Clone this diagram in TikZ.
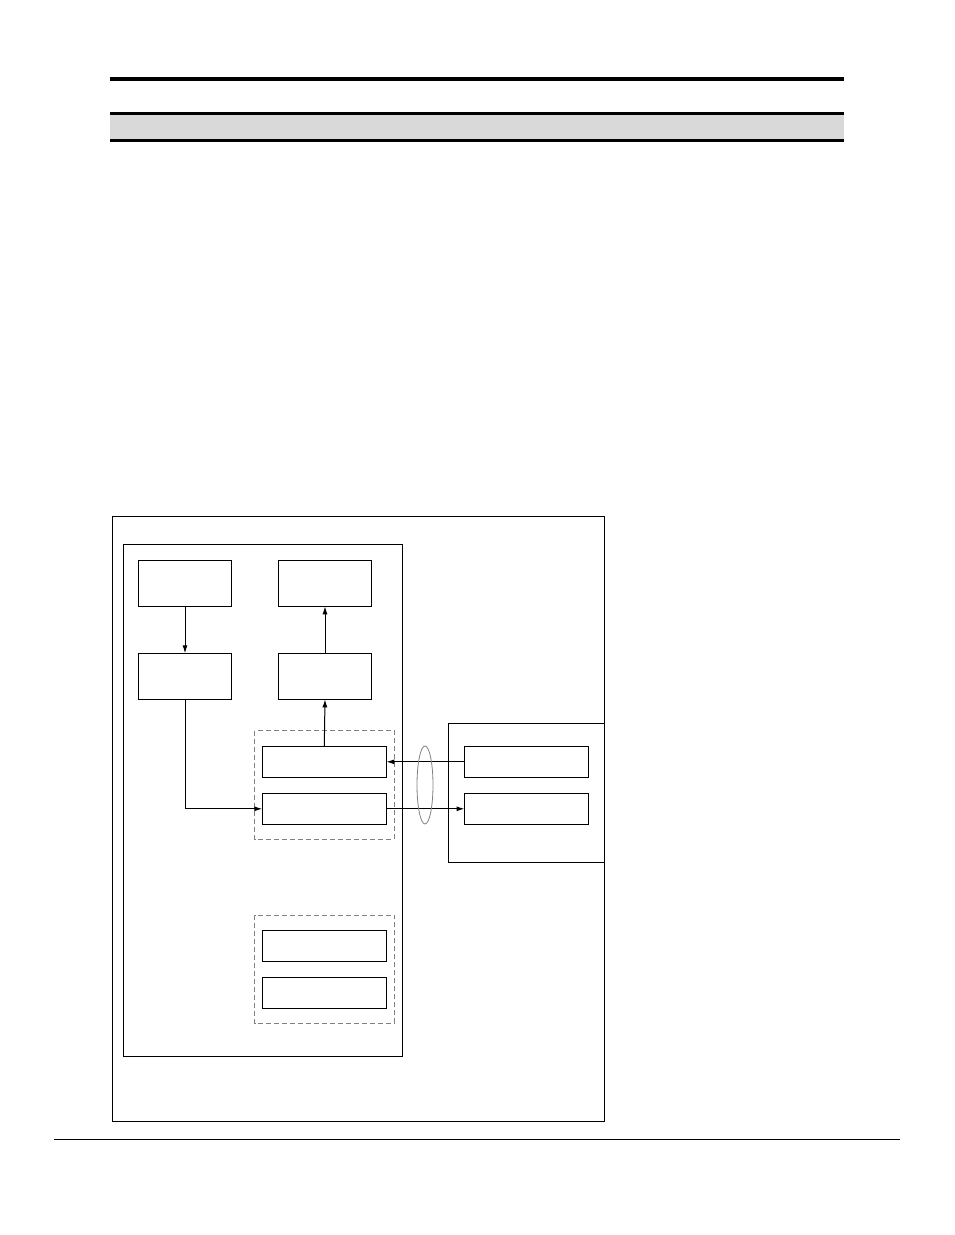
\documentclass[tikz,border=0pt]{standalone}
\usetikzlibrary{arrows.meta}
\definecolor{bandgray}{HTML}{D9D9D9}
\tikzset{
  sbox/.style={draw,line width=1pt,inner sep=0pt,outer sep=0pt,minimum width=92.6pt,minimum height=46pt},
  wbox/.style={draw,line width=1pt,inner sep=0pt,outer sep=0pt,minimum width=124pt,minimum height=31pt},
  grp/.style={draw=gray,line width=1pt,dash pattern=on 5pt off 3pt},
  link/.style={-{Latex[length=8pt,width=5pt]},line width=1pt}
}

\begin{document}
\begin{tikzpicture}[x=1pt,y=-1pt]
    \useasboundingbox (0,0) rectangle (954,1235);
    % header and footer rules
    \draw[line width=3.7pt] (110,78.8) -- (844,78.8);
    \fill[bandgray] (110,113.5) rectangle (844,140.5);
    \draw[line width=3pt] (110,113.5) -- (844,113.5);
    \draw[line width=3pt] (110,140.5) -- (844,140.5);
    \draw[line width=1.2pt] (54,1139.3) -- (900,1139.3);
    % frames
    \draw[line width=1pt] (112.3,516.7) rectangle (604.5,1121);
    \draw[line width=1pt] (123.3,544.3) rectangle (402.3,1056);
    \draw[line width=1pt] (448.3,723.3) rectangle (604.5,862.3);
    \draw[grp] (254.7,730.7) rectangle (394.3,839);
    \draw[grp] (254.5,915) rectangle (394.3,1023.3);
    % blocks
    \node[sbox] (tl) at (185,583.3) {};
    \node[sbox] (tr) at (325,583.3) {};
    \node[sbox] (ml) at (185,676.3) {};
    \node[sbox] (mr) at (325,676.3) {};
    \node[wbox] (rx) at (324.3,761.8) {};
    \node[wbox] (tx) at (324.3,808.8) {};
    \node[wbox] (prx) at (526.5,761.8) {};
    \node[wbox] (ptx) at (526.5,808.8) {};
    \node[wbox] (sa) at (324.3,946) {};
    \node[wbox] (sb) at (324.3,992.8) {};
    % links
    \draw[link] (tl) -- (ml);
    \draw[link] (mr) -- (tr);
    \draw[link] (rx.north) -- (mr.south);
    \draw[link] (ml.south) |- (tx.west);
    \draw[link] (prx.west) -- (rx.east);
    \draw[link] (tx.east) -- (ptx.west);
    \draw[gray,line width=0.8pt] (425,785) ellipse (8 and 39);
\end{tikzpicture}
\end{document}
